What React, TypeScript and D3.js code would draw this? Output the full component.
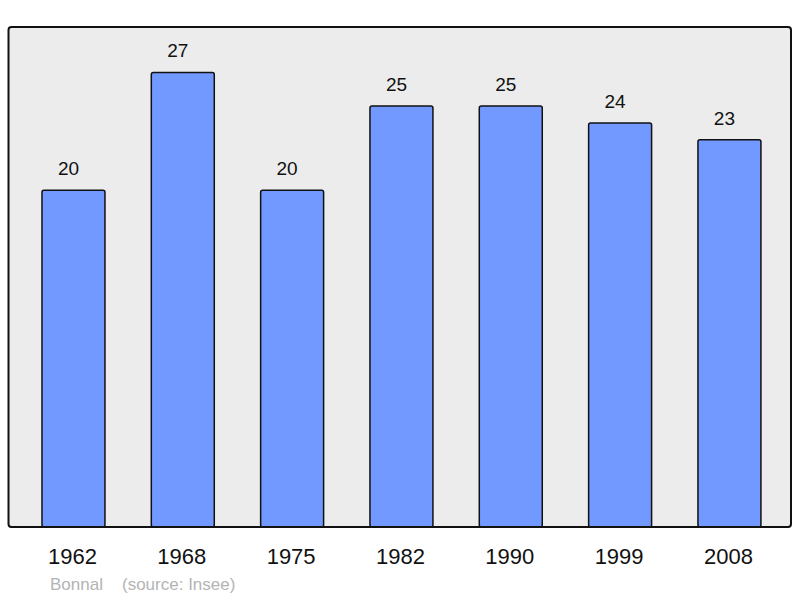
import React, { useRef, useEffect } from "react";
import * as d3 from "d3";

const years = ["1962", "1968", "1975", "1982", "1990", "1999", "2008"];
const population = [20, 27, 20, 25, 25, 24, 23];
const footerName = "Bonnal";
const footerSource = "(source: Insee)";

const W = 800;
const H = 598;

const App = () => {
  const ref = useRef<SVGSVGElement>(null);

  useEffect(() => {
    const svg = d3.select(ref.current);
    svg.selectAll("*").remove();

    const frame = { left: 8.5, top: 27, right: 791, bottom: 527 };
    const font = "'Liberation Sans', Arial, sans-serif";

    const data = years.map((y, i) => ({ year: y, value: population[i] }));

    const x = d3
      .scaleBand()
      .domain(years)
      .range([18.8, 784.1])
      .paddingInner(0.424)
      .paddingOuter(0.212);

    const y = d3
      .scaleLinear()
      .domain([0, (d3.max(population) || 1) * 1.1])
      .range([frame.bottom, frame.top]);

    // plot background + frame
    svg
      .append("rect")
      .attr("x", frame.left)
      .attr("y", frame.top)
      .attr("width", frame.right - frame.left)
      .attr("height", frame.bottom - frame.top)
      .attr("rx", 3)
      .attr("fill", "#ececec")
      .attr("stroke", "#111")
      .attr("stroke-width", 2);

    // bars
    svg
      .selectAll("rect.bar")
      .data(data)
      .enter()
      .append("rect")
      .attr("class", "bar")
      .attr("x", (d) => x(d.year)!)
      .attr("y", (d) => y(d.value))
      .attr("width", x.bandwidth())
      .attr("height", (d) => frame.bottom - y(d.value))
      .attr("rx", 2)
      .attr("fill", "#7299ff")
      .attr("stroke", "#111")
      .attr("stroke-width", 1.5);

    // redraw bottom edge of frame over bars
    svg
      .append("line")
      .attr("x1", frame.left + 2)
      .attr("x2", frame.right - 2)
      .attr("y1", frame.bottom)
      .attr("y2", frame.bottom)
      .attr("stroke", "#111")
      .attr("stroke-width", 2);

    // value labels (sit a little left of bar centre, as in the original)
    svg
      .selectAll("text.val")
      .data(data)
      .enter()
      .append("text")
      .attr("class", "val")
      .attr("x", (d) => x(d.year)! + x.bandwidth() / 2 - 5)
      .attr("y", (d) => y(d.value) - 15)
      .attr("text-anchor", "middle")
      .style("font-family", font)
      .style("font-size", "19px")
      .style("fill", "#111")
      .text((d) => d.value);

    // year labels
    svg
      .selectAll("text.year")
      .data(data)
      .enter()
      .append("text")
      .attr("class", "year")
      .attr("x", (d) => x(d.year)! + x.bandwidth() / 2 - 1)
      .attr("y", 564)
      .attr("text-anchor", "middle")
      .style("font-family", font)
      .style("font-size", "22px")
      .style("fill", "#111")
      .text((d) => d.year);

    // footer
    svg
      .append("text")
      .attr("x", 50)
      .attr("y", 590)
      .style("font-family", font)
      .style("font-size", "17px")
      .style("fill", "#b4b4b4")
      .text(footerName);

    svg
      .append("text")
      .attr("x", 122)
      .attr("y", 590)
      .style("font-family", font)
      .style("font-size", "17px")
      .style("fill", "#b4b4b4")
      .text(footerSource);
  }, []);

  return (
    <svg
      ref={ref}
      width={W}
      height={H}
      style={{ position: "absolute", left: 0, top: 0, background: "#fff" }}
    />
  );
};

export default App;
